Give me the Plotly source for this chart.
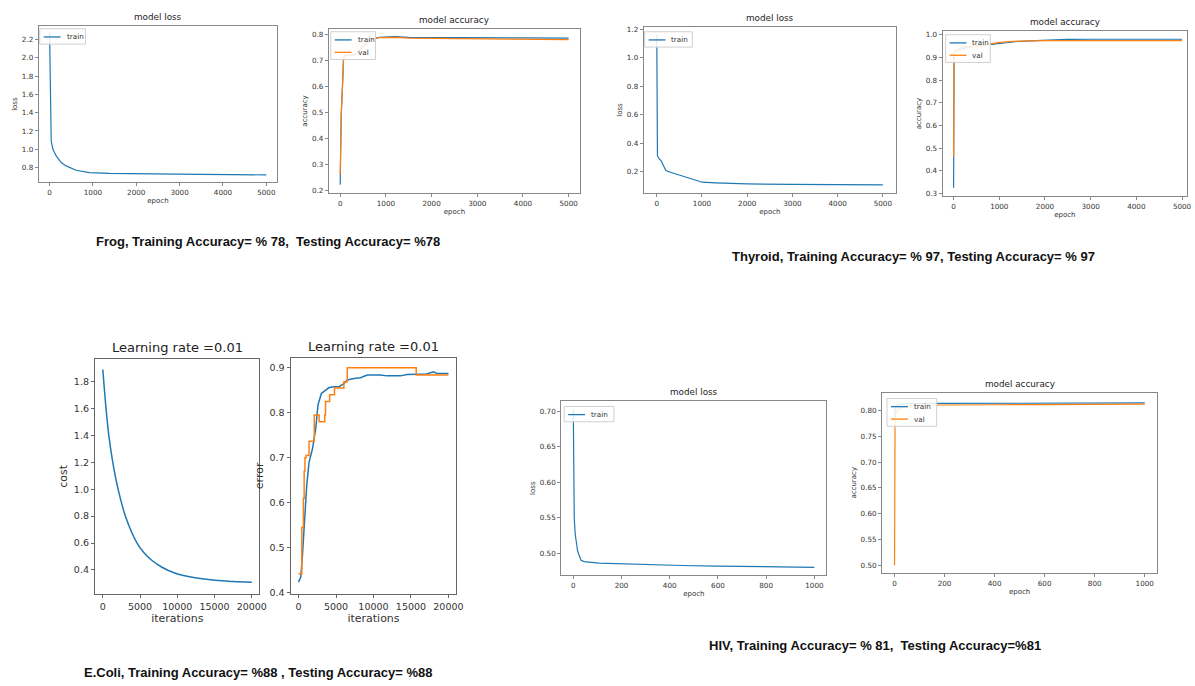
import plotly.graph_objects as go

W, H = 1195, 686

# ---------------- data ----------------
frog_loss_epoch = [0, 10, 25, 38, 76, 153, 267, 382, 610, 916, 1374, 2000, 2672, 3500, 4200, 5000]
frog_loss = [2.27, 1.85, 1.35, 1.09, 1.0, 0.927, 0.855, 0.818, 0.77, 0.745, 0.735, 0.73, 0.727, 0.724, 0.722, 0.72]

frog_acc_epoch = [0, 5, 22, 58, 72, 100, 300, 400, 500, 600, 700, 850, 1000, 1200, 1500, 2000, 3000, 4000, 5000]
frog_train_acc = [0.222, 0.40, 0.49, 0.64, 0.71, 0.72, 0.722, 0.735, 0.755, 0.77, 0.783, 0.79, 0.792, 0.793, 0.79, 0.79, 0.789, 0.788, 0.787]
frog_val_acc = [0.262, 0.42, 0.49, 0.63, 0.70, 0.72, 0.722, 0.735, 0.755, 0.77, 0.783, 0.789, 0.79, 0.79, 0.787, 0.786, 0.785, 0.783, 0.781]

thy_loss_epoch = [0, 3, 8, 15, 50, 95, 150, 200, 300, 400, 640, 800, 1005, 1300, 1450, 2000, 3000, 4000, 5000]
thy_loss = [1.16, 0.70, 0.40, 0.311, 0.29, 0.276, 0.24, 0.207, 0.195, 0.185, 0.16, 0.14, 0.125, 0.12, 0.118, 0.113, 0.11, 0.108, 0.106]

thy_acc_epoch = [0, 3, 10, 50, 200, 500, 800, 1000, 1400, 1800, 2000, 2500, 3000, 4000, 5000]
thy_train_acc = [0.325, 0.46, 0.92, 0.93, 0.94, 0.95, 0.956, 0.962, 0.97, 0.974, 0.976, 0.979, 0.98, 0.98, 0.98]
thy_val_acc = [0.46, 0.70, 0.92, 0.93, 0.945, 0.95, 0.958, 0.966, 0.972, 0.974, 0.974, 0.974, 0.974, 0.974, 0.974]

ecoli_cost_iter = [0, 400, 804, 1340, 2054, 3036, 4598, 5500, 6607, 7946, 9732, 12000, 15089, 17500, 20000]
ecoli_cost = [1.89, 1.62, 1.40, 1.20, 1.00, 0.80, 0.60, 0.53, 0.47, 0.42, 0.375, 0.345, 0.323, 0.314, 0.308]

ecoli_train_iter = [0, 300, 530, 840, 1100, 1400, 1860, 2300, 2600, 3050, 3600, 4070, 4730, 5400, 6060, 6500, 7400,
                    8270, 9160, 10900, 11800, 13600, 14470, 17100, 18000, 18500, 20000]
ecoli_train_acc = [0.424, 0.435, 0.486, 0.575, 0.64, 0.69, 0.72, 0.766, 0.818, 0.843, 0.85, 0.856, 0.858, 0.858, 0.865,
                   0.873, 0.876, 0.878, 0.884, 0.884, 0.882, 0.882, 0.885, 0.886, 0.891, 0.887, 0.887]
ecoli_val_iter = [0, 440, 650, 750, 850, 1000, 1400, 2100, 2750, 3500, 3600, 4150, 4800, 6050, 6500, 15700, 20000]
ecoli_val_acc = [0.442, 0.545, 0.61, 0.67, 0.70, 0.705, 0.737, 0.795, 0.78, 0.795, 0.825, 0.84, 0.855, 0.869, 0.90, 0.884, 0.884]

hiv_loss_epoch = [0, 2, 4, 8, 18, 32, 45, 107, 200, 313, 450, 588, 800, 1000]
hiv_loss = [0.703, 0.62, 0.55, 0.527, 0.503, 0.49, 0.488, 0.486, 0.4848, 0.4836, 0.4825, 0.4817, 0.481, 0.480]

hiv_acc_epoch = [0, 2, 9, 36, 50, 200, 400, 600, 800, 1000]
hiv_train_acc = [0.79, 0.80, 0.81, 0.813, 0.8132, 0.8135, 0.814, 0.8142, 0.8145, 0.8145]
hiv_val_acc = [0.50, 0.787, 0.80, 0.808, 0.810, 0.811, 0.811, 0.8112, 0.8115, 0.812]

captions = ["Frog, Training Accuracy= % 78,  Testing Accuracy= %78",
            "Thyroid, Training Accuracy= % 97, Testing Accuracy= % 97",
            "E.Coli, Training Accuracy= %88 , Testing Accuracy= %88",
            "HIV, Training Accuracy= % 81,  Testing Accuracy=%81"]

BLUE = "#1f77b4"
ORANGE = "#ff7f0e"
FONT = "DejaVu Sans"

# panel layout (pixel frames: left, right, top, bottom)
panels = [
    dict(frame=(39, 279, 24, 182), xr=[-250, 5250], yr=[0.637, 2.352], xt0=0, xdt=1000, yt0=0.8, ydt=0.2, yfmt=".1f",
         title="model loss", xtitle="epoch", ytitle="loss", big=False, legend=(40, 27, 46)),
    dict(frame=(331, 584, 27, 193), xr=[-250, 5250], yr=[0.1885, 0.823], xt0=0, xdt=1000, yt0=0.2, ydt=0.1, yfmt=".1f",
         title="model accuracy", xtitle="epoch", ytitle="accuracy", big=False, legend=(333, 30, 45)),
    dict(frame=(648, 902, 25, 193), xr=[-290, 5290], yr=[0.047, 1.216], xt0=0, xdt=1000, yt0=0.2, ydt=0.2, yfmt=".1f",
         title="model loss", xtitle="epoch", ytitle="loss", big=False, legend=(649, 30, 48)),
    dict(frame=(949, 1195, 29, 196), xr=[-240, 5109], yr=[0.287, 1.0175], xt0=0, xdt=1000, yt0=0.3, ydt=0.1, yfmt=".1f",
         title="model accuracy", xtitle="epoch", ytitle="accuracy", big=False, legend=(952, 33, 45)),
    dict(frame=(96, 261, 360, 597), xr=[-1000, 21000], yr=[0.223, 1.969], xt0=0, xdt=5000, yt0=0.4, ydt=0.2, yfmt=".1f",
         title="Learning rate =0.01", xtitle="iterations", ytitle="cost", big=True, legend=None),
    dict(frame=(293, 459, 359, 597), xr=[-1000, 21000], yr=[0.398, 0.922], xt0=0, xdt=5000, yt0=0.4, ydt=0.1, yfmt=".1f",
         title="Learning rate =0.01", xtitle="iterations", ytitle="error", big=True, legend=None),
    dict(frame=(565, 832, 403, 578), xr=[-50, 1050], yr=[0.4692, 0.714], xt0=0, xdt=200, yt0=0.5, ydt=0.05, yfmt=".2f",
         title="model loss", xtitle="epoch", ytitle="loss", big=False, legend=(568, 408, 50)),
    dict(frame=(888, 1165, 394, 576), xr=[-50, 1050], yr=[0.485, 0.8346], xt0=0, xdt=200, yt0=0.5, ydt=0.05, yfmt=".2f",
         title="model accuracy", xtitle="epoch", ytitle="accuracy", big=False, legend=(893, 400, 50)),
]

series = [
    [(frog_loss_epoch, frog_loss, BLUE, "train", "linear")],
    [(frog_acc_epoch, frog_train_acc, BLUE, "train", "linear"), (frog_acc_epoch, frog_val_acc, ORANGE, "val", "linear")],
    [(thy_loss_epoch, thy_loss, BLUE, "train", "linear")],
    [(thy_acc_epoch, thy_train_acc, BLUE, "train", "linear"), (thy_acc_epoch, thy_val_acc, ORANGE, "val", "linear")],
    [(ecoli_cost_iter, ecoli_cost, BLUE, None, "spline")],
    [(ecoli_train_iter, ecoli_train_acc, BLUE, None, "linear"), (ecoli_val_iter, ecoli_val_acc, ORANGE, None, "hv")],
    [(hiv_loss_epoch, hiv_loss, BLUE, "train", "linear")],
    [(hiv_acc_epoch, hiv_train_acc, BLUE, "train", "linear"), (hiv_acc_epoch, hiv_val_acc, ORANGE, "val", "linear")],
]

fig = go.Figure()
layout = dict(width=W, height=H, margin=dict(l=0, r=0, t=0, b=0), paper_bgcolor="white", plot_bgcolor="white",
              font=dict(family=FONT, color="#333"), annotations=[], shapes=[], showlegend=False)


def px(x):
    return x / W


def py(y):
    return 1 - y / H


for i, (p, ser) in enumerate(zip(panels, series)):
    n = i + 1
    xa = "xaxis" if n == 1 else f"xaxis{n}"
    ya = "yaxis" if n == 1 else f"yaxis{n}"
    xref = "x" if n == 1 else f"x{n}"
    yref = "y" if n == 1 else f"y{n}"
    L, R, T, B = p["frame"]
    big = p["big"]
    tick_size = 9.5 if big else 7.2
    lab_size = 11 if big else 7
    line_col = "#666" if big else "#888"
    lw = 1.5 if big else 1.2
    common = dict(showgrid=False, zeroline=False, showline=True, mirror=True, linecolor=line_col, linewidth=1,
                  ticks="outside", ticklen=3.5 if big else 3, tickcolor=line_col, tickwidth=1,
                  tickfont=dict(size=tick_size, color="#333", family=FONT))
    layout[xa] = dict(common, domain=[px(L), px(R)], range=p["xr"], anchor=yref, tickmode="linear",
                      tick0=p["xt0"], dtick=p["xdt"], tickformat="d",
                      title=dict(text=p["xtitle"], font=dict(size=lab_size, color="#333"), standoff=2))
    layout[ya] = dict(common, domain=[py(B), py(T)], range=p["yr"], anchor=xref, tickmode="linear",
                      tick0=p["yt0"], dtick=p["ydt"], tickformat=p["yfmt"],
                      title=dict(text=p["ytitle"], font=dict(size=lab_size, color="#333"), standoff=3))
    for (xs, ys, col, name, shape) in ser:
        fig.add_trace(go.Scatter(x=xs, y=ys, mode="lines", line=dict(color=col, width=lw, shape=shape),
                                 name=name if name else "", showlegend=False, xaxis=xref, yaxis=yref))
    # matplotlib-style legend box (upper left)
    if p["legend"] is not None:
        lx, ly, lwid = p["legend"]
        entries = [(s[2], s[3]) for s in ser if s[3] is not None]
        row = 12.5
        hgt = 3 + row * len(entries)
        layout["shapes"].append(dict(type="rect", xref="paper", yref="paper", x0=px(lx), x1=px(lx + lwid),
                                     y0=py(ly + hgt), y1=py(ly), line=dict(color="#d0d0d0", width=1),
                                     fillcolor="rgba(255,255,255,0.85)", layer="above"))
        for k, (col, name) in enumerate(entries):
            yc = ly + 2 + row * (k + 0.5)
            layout["shapes"].append(dict(type="line", xref="paper", yref="paper", x0=px(lx + 4), x1=px(lx + 21),
                                         y0=py(yc), y1=py(yc), line=dict(color=col, width=1.3), layer="above"))
            layout["annotations"].append(dict(text=name, x=px(lx + 25), y=py(yc), xref="paper", yref="paper",
                                              xanchor="left", yanchor="middle", showarrow=False,
                                              font=dict(size=7.2, color="#333", family=FONT)))
    layout["annotations"].append(dict(text=p["title"], x=px((L + R) / 2), y=py(T - 2), xref="paper",
                                      yref="paper", xanchor="center", yanchor="bottom", showarrow=False,
                                      font=dict(size=13 if big else 8.8, color="#222", family=FONT)))

cap_pos = [(270, 242), (920, 257), (260, 676), (881, 649)]
for txt, (cx, cy) in zip(captions, cap_pos):
    layout["annotations"].append(dict(text="<b>" + txt + "</b>", x=px(cx), y=py(cy), xref="paper", yref="paper",
                                      xanchor="center", yanchor="middle", showarrow=False,
                                      font=dict(size=13, color="#111", family="Liberation Sans")))

fig.update_layout(**layout)
fig.write_html("out.html")
